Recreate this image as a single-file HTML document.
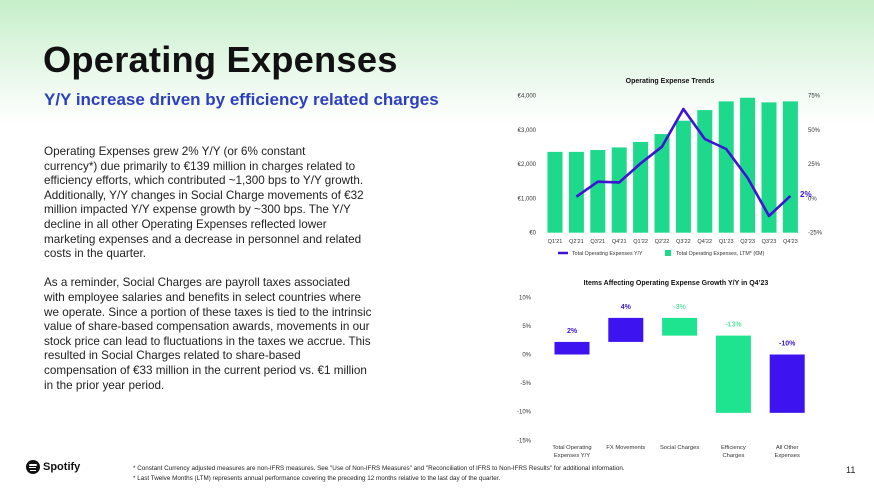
<!DOCTYPE html>
<html><head><meta charset="utf-8">
<style>
body{margin:0;width:874px;height:490px;overflow:hidden;font-family:"Liberation Sans",sans-serif;background:linear-gradient(#c6efc9 0px,#e8f8ea 70px,#ffffff 125px,#fff 490px);position:relative}
#title{position:absolute;left:43px;top:39px;font-size:36.3px;font-weight:bold;color:#111;margin:0;letter-spacing:0.2px}
#sub{position:absolute;left:44px;top:90px;font-size:17px;font-weight:bold;color:#2d3fc0}
#body{position:absolute;left:44px;top:145px;font-size:11.7px;line-height:14.6px;color:#222}
.foot{position:absolute;left:133px;font-size:6.3px;color:#222}
</style></head><body>
<div id="title">Operating Expenses</div>
<div id="sub">Y/Y increase driven by efficiency related charges</div>
<div id="body">Operating Expenses grew 2% Y/Y (or 6% constant<br>currency*) due primarily to €139 million in charges related to<br>efficiency efforts, which contributed ~1,300 bps to Y/Y growth.<br>Additionally, Y/Y changes in Social Charge movements of €32<br>million impacted Y/Y expense growth by ~300 bps. The Y/Y<br>decline in all other Operating Expenses reflected lower<br>marketing expenses and a decrease in personnel and related<br>costs in the quarter.<br><br>As a reminder, Social Charges are payroll taxes associated<br>with employee salaries and benefits in select countries where<br>we operate. Since a portion of these taxes is tied to the intrinsic<br>value of share-based compensation awards, movements in our<br>stock price can lead to fluctuations in the taxes we accrue. This<br>resulted in Social Charges related to share-based<br>compensation of €33 million in the current period vs. €1 million<br>in the prior year period.</div>
<div style="position:absolute;left:26px;top:460px;display:flex;align-items:center;gap:3px">
<div style="width:14px;height:14px;border-radius:50%;background:#111;position:relative"><div style="position:absolute;left:3px;top:4px;width:8px;height:1.5px;background:#fff;border-radius:1px"></div><div style="position:absolute;left:3px;top:7px;width:7px;height:1.3px;background:#fff"></div><div style="position:absolute;left:4px;top:9.5px;width:6px;height:1.2px;background:#fff"></div></div>
<span style="font-weight:bold;font-size:11px;color:#111">Spotify</span></div>
<div class="foot" style="top:465px">* Constant Currency adjusted measures are non-IFRS measures. See "Use of Non-IFRS Measures" and "Reconciliation of IFRS to Non-IFRS Results" for additional information.</div>
<div class="foot" style="top:475px">* Last Twelve Months (LTM) represents annual performance covering the preceding 12 months relative to the last day of the quarter.</div>
<div style="position:absolute;left:846px;top:465px;font-size:9px;color:#222">11</div>
<svg id="c" width="874" height="490" style="position:absolute;left:0;top:0" font-family="Liberation Sans, sans-serif"></svg>
<script>
const quarters=["Q1'21","Q2'21","Q3'21","Q4'21","Q1'22","Q2'22","Q3'22","Q4'22","Q1'23","Q2'23","Q3'23","Q4'23"];
const ltmValues=[2360,2360,2415,2490,2650,2880,3270,3580,3835,3940,3805,3835];
const yoyValues=[null,1.3,12.2,11.7,25.6,37.8,65.3,43.4,36.1,15,-12.8,1.8];
const leftTicks=["€0","€1,000","€2,000","€3,000","€4,000"];
const rightTicks=["-25%","0%","25%","50%","75%"];
const wfCats=[["Total Operating","Expenses Y/Y"],["FX Movements"],["Social Charges"],["Efficiency","Charges"],["All Other","Expenses"]];
const wfStart=[0,2.2,6.4,3.3,0];
const wfEnd=[2.2,6.4,3.3,-10.2,-10.2];
const wfLabels=["2%","4%","-3%","-13%","-10%"];
const wfTicks=[10,5,0,-5,-10,-15];
const NS="http://www.w3.org/2000/svg",svg=document.getElementById('c');
function mk(t,a,txt){const e=document.createElementNS(NS,t);for(const k in a)e.setAttribute(k,a[k]);if(txt!==undefined)e.textContent=txt;svg.appendChild(e);return e;}
const yL=v=>232.7-v/4000*137, yR=v=>232.7-(v+25)/100*137, xQ=i=>555+i*21.4;
let t=mk('text',{x:670,y:83,'font-size':7,'font-weight':'bold','text-anchor':'middle',fill:'#111'},'Operating Expense Trends');

leftTicks.forEach((s,i)=>{const e=mk('text',{x:536,y:yL(i*1000)+2,'font-size':6,'text-anchor':'end',fill:'#333'},s);
});
rightTicks.forEach((s,i)=>{const e=mk('text',{x:808,y:yR(-25+i*25)+2,'font-size':6,fill:'#333'},s);
});
quarters.forEach((q,i)=>{const b=mk('rect',{x:xQ(i)-7.5,y:yL(ltmValues[i]),width:15,height:232.7-yL(ltmValues[i]),fill:'#1ed98b'});

const l=mk('text',{x:xQ(i),y:243,'font-size':5.6,'text-anchor':'middle',fill:'#333'},q);
});
let pts=yoyValues.map((v,i)=>v===null?null:xQ(i)+','+yR(v)).filter(p=>p).join(' ');
let pl=mk('polyline',{points:pts,fill:'none',stroke:'#3d14d4','stroke-width':2.6,'stroke-linejoin':'round'});

let lb=mk('text',{x:800,y:yR(yoyValues[11])+1,'font-size':8,fill:'#3d14d4','font-weight':'bold'},'2%');

let g=mk('line',{x1:558,y1:253,x2:568,y2:253,stroke:'#3d14d4','stroke-width':2.5});

t=mk('text',{x:572,y:255,'font-size':5.3,fill:'#333'},'Total Operating Expenses Y/Y');

g=mk('rect',{x:665,y:250,width:6,height:6,fill:'#1ed98b'});

t=mk('text',{x:676,y:255,'font-size':5.3,fill:'#333'},'Total Operating Expenses, LTM* (€M)');

const yW=v=>354.5-v*5.72, xW=i=>572+i*53.8;
t=mk('text',{x:676,y:285,'font-size':7,'font-weight':'bold','text-anchor':'middle',fill:'#111'},'Items Affecting Operating Expense Growth Y/Y in Q4\u201923');

wfTicks.forEach(v=>{const e=mk('text',{x:531,y:yW(v)+2,'font-size':6,'text-anchor':'end',fill:'#333'},v+'%');
});
const cols=['#3d14ef','#3d14ef','#1ee38f','#1ee38f','#3d14ef'],lc=['#3d14d4','#3d14d4','#5fe3a8','#5fe3a8','#3d14d4'];
wfCats.forEach((c,i)=>{const top=Math.max(wfStart[i],wfEnd[i]),bot=Math.min(wfStart[i],wfEnd[i]);
const b=mk('rect',{x:xW(i)-17.5,y:yW(top),width:35,height:(top-bot)*5.72,fill:cols[i]});

const l=mk('text',{x:xW(i),y:yW(top)-9,'font-size':7,'font-weight':'bold','text-anchor':'middle',fill:lc[i]},wfLabels[i]);

c.forEach((s,j)=>{const e=mk('text',{x:xW(i),y:449+j*8,'font-size':5.8,'text-anchor':'middle',fill:'#333'},s);
});});
</script>
</body></html>
